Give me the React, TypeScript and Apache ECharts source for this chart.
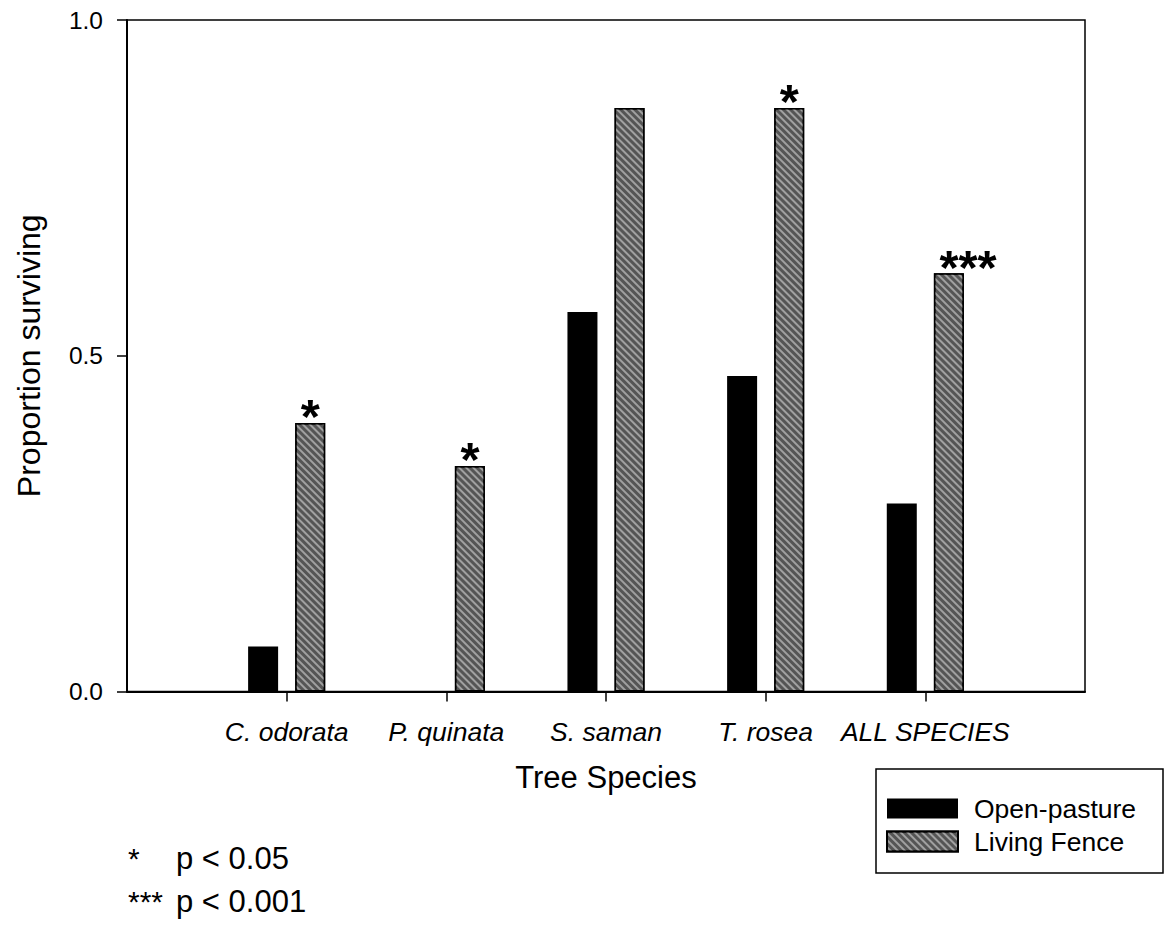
import React, { useEffect, useRef } from 'react';
import * as echarts from 'echarts';

const categories = ['C. odorata', 'P. quinata', 'S. saman', 'T. rosea', 'ALL SPECIES'];
const openPasture = [0.067, 0, 0.565, 0.47, 0.28];
const livingFence = [0.4, 0.336, 0.869, 0.869, 0.623];
const significance = ['*', '*', '', '*', '***'];
const seriesNames = ['Open-pasture', 'Living Fence'];
const noteSymbols = ['*', '***'];
const noteTexts = ['p < 0.05', 'p < 0.001'];

const FONT = '"Liberation Sans", Arial, Helvetica, sans-serif';

export default function App() {
  const ref = useRef<HTMLDivElement>(null);

  useEffect(() => {
    document.body.style.margin = '0';
    const chart = echarts.init(ref.current as HTMLDivElement, null, { renderer: 'svg' });
    const axisCats = ['', ...categories, ''];
    const pad = (arr: any[]) => [null, ...arr, null];
    const sig = ['', ...significance, ''];

    const option: any = {
      animation: false,
      backgroundColor: '#ffffff',
      grid: {
        left: 127,
        right: 80,
        top: 20,
        bottom: 234.5,
        show: true,
        borderColor: '#000',
        borderWidth: 1.5,
        backgroundColor: 'transparent',
      },
      xAxis: {
        type: 'category',
        data: axisCats,
        boundaryGap: false,
        axisLine: { lineStyle: { color: '#000', width: 2 } },
        axisTick: {
          show: true,
          length: 10,
          lineStyle: { color: '#000', width: 1.5 },
          interval: (i: number) => i > 0 && i < axisCats.length - 1,
        },
        axisLabel: {
          color: '#000',
          fontSize: 26.5,
          fontStyle: 'italic',
          fontFamily: FONT,
          margin: 27,
          interval: 0,
        },
        splitLine: { show: false },
        name: 'Tree Species',
        nameLocation: 'middle',
        nameGap: 70,
        nameTextStyle: { color: '#000', fontSize: 31, fontFamily: FONT },
      },
      yAxis: {
        type: 'value',
        min: 0,
        max: 1,
        interval: 0.5,
        axisLine: { show: true, lineStyle: { color: '#000', width: 2 } },
        axisTick: { show: true, length: 10, lineStyle: { color: '#000', width: 1.5 } },
        axisLabel: {
          color: '#000',
          fontSize: 24.5,
          fontFamily: FONT,
          margin: 24,
          formatter: (v: number) => v.toFixed(1),
        },
        splitLine: { show: false },
        name: 'Proportion surviving',
        nameLocation: 'middle',
        nameGap: 82,
        nameRotate: 90,
        nameTextStyle: { color: '#000', fontSize: 32, fontFamily: FONT },
      },
      legend: {
        show: true,
        orient: 'vertical',
        left: 886,
        top: 795,
        itemWidth: 71,
        itemHeight: 20,
        itemGap: 6,
        icon: 'rect',
        padding: 0,
        selectedMode: false,
        textStyle: {
          color: '#000',
          fontSize: 26.5,
          fontFamily: FONT,
          lineHeight: 20,
          padding: [0, 0, 0, 11],
        },
        data: seriesNames,
      },
      series: [
        {
          name: seriesNames[0],
          type: 'bar',
          data: pad(openPasture),
          barWidth: 30,
          barGap: '57%',
          itemStyle: { color: '#000' },
        },
        {
          name: seriesNames[1],
          type: 'bar',
          data: pad(livingFence),
          barWidth: 30,
          barGap: '57%',
          itemStyle: {
            color: '#555555',
            borderColor: '#000',
            borderWidth: 1.5,
            decal: {
              symbol: 'rect',
              symbolSize: 1,
              color: 'rgba(185,185,185,0.75)',
              dashArrayX: [1, 0],
              dashArrayY: [2, 3],
              rotation: Math.PI / 4,
            },
          },
          label: {
            show: true,
            position: 'top',
            distance: -18,
            align: 'left',
            offset: [-9.5, 0],
            fontSize: 49,
            fontWeight: 'bold',
            fontFamily: FONT,
            color: '#000',
            formatter: (p: any) => sig[p.dataIndex] || '',
          },
        },
      ],
      graphic: [
        {
          type: 'rect',
          shape: { x: 876, y: 769, width: 287, height: 104 },
          style: { fill: 'none', stroke: '#000', lineWidth: 1.5 },
          silent: true,
        },
        ...noteSymbols.map((s, i) => ({
          type: 'text',
          x: 128,
          y: 858 + i * 43,
          style: {
            text: s,
            fill: '#000',
            font: `30px ${FONT}`,
            align: 'left',
            verticalAlign: 'middle',
          },
        })),
        ...noteTexts.map((t, i) => ({
          type: 'text',
          x: 176,
          y: 858 + i * 43,
          style: {
            text: t,
            fill: '#000',
            font: `31px ${FONT}`,
            align: 'left',
            verticalAlign: 'middle',
          },
        })),
      ],
    };

    chart.setOption(option);
    return () => {
      chart.dispose();
    };
  }, []);

  return (
    <div
      ref={ref}
      style={{ position: 'fixed', left: 0, top: 0, width: 1165, height: 926, background: '#fff' }}
    />
  );
}
